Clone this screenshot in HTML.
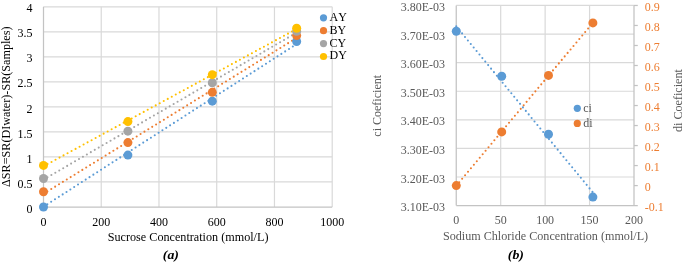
<!DOCTYPE html>
<html><head><meta charset="utf-8"><title>Figure</title>
<style>
html,body{margin:0;padding:0;background:#fff;}
svg{display:block;will-change:transform}
text{font-family:"Liberation Serif",serif;font-size:12.6px;font-kerning:none;}
.g{stroke:#D9D9D9;stroke-width:1.2;fill:none}
.ax{stroke:#C3C3C3;stroke-width:1.25;fill:none}
.t{fill:none;stroke-width:2.1;stroke-linecap:round;stroke-dasharray:0 4.56}
.k{fill:#000}
.gy{fill:#595959}
.or{fill:#ED7D31}
</style></head><body>
<svg width="685" height="264" viewBox="0 0 685 264">
<rect width="685" height="264" fill="#fff"/>

<g id="chartA">
<line class="g" x1="101.24" y1="6.8" x2="101.24" y2="207.0"/>
<line class="g" x1="158.98" y1="6.8" x2="158.98" y2="207.0"/>
<line class="g" x1="216.72" y1="6.8" x2="216.72" y2="207.0"/>
<line class="g" x1="274.46" y1="6.8" x2="274.46" y2="207.0"/>
<line class="g" x1="332.20" y1="6.8" x2="332.20" y2="207.0"/>
<line class="g" x1="43.5" y1="6.80" x2="332.2" y2="6.80"/>
<line class="g" x1="43.5" y1="31.82" x2="332.2" y2="31.82"/>
<line class="g" x1="43.5" y1="56.85" x2="332.2" y2="56.85"/>
<line class="g" x1="43.5" y1="81.87" x2="332.2" y2="81.87"/>
<line class="g" x1="43.5" y1="106.90" x2="332.2" y2="106.90"/>
<line class="g" x1="43.5" y1="131.93" x2="332.2" y2="131.93"/>
<line class="g" x1="43.5" y1="156.95" x2="332.2" y2="156.95"/>
<line class="g" x1="43.5" y1="181.97" x2="332.2" y2="181.97"/>
<line class="ax" x1="43.5" y1="6.8" x2="43.5" y2="207.0"/>
<line class="ax" x1="43.5" y1="207.0" x2="332.2" y2="207.0"/>
<line class="t" stroke="#5B9BD5" x1="43.5" y1="206.72" x2="296.65" y2="44.04"/>
<line class="t" stroke="#ED7D31" x1="43.5" y1="193.82" x2="296.65" y2="37.91"/>
<line class="t" stroke="#A5A5A5" x1="43.5" y1="179.64" x2="296.65" y2="32.63"/>
<line class="t" stroke="#FFC000" x1="43.5" y1="166.29" x2="296.65" y2="28.94"/>
<circle cx="43.5" cy="206.97" r="4.5" fill="#5B9BD5"/>
<circle cx="127.9" cy="155.1" r="4.5" fill="#5B9BD5"/>
<circle cx="212.3" cy="101.15" r="4.5" fill="#5B9BD5"/>
<circle cx="296.65" cy="41.45" r="4.5" fill="#5B9BD5"/>
<circle cx="43.5" cy="191.7" r="4.5" fill="#ED7D31"/>
<circle cx="127.9" cy="142.6" r="4.5" fill="#ED7D31"/>
<circle cx="212.3" cy="92.35" r="4.5" fill="#ED7D31"/>
<circle cx="296.65" cy="35.6" r="4.5" fill="#ED7D31"/>
<circle cx="43.5" cy="178.5" r="4.5" fill="#A5A5A5"/>
<circle cx="127.9" cy="131.15" r="4.5" fill="#A5A5A5"/>
<circle cx="212.3" cy="82.7" r="4.5" fill="#A5A5A5"/>
<circle cx="296.65" cy="31.35" r="4.5" fill="#A5A5A5"/>
<circle cx="43.5" cy="165.4" r="4.5" fill="#FFC000"/>
<circle cx="127.9" cy="121.6" r="4.5" fill="#FFC000"/>
<circle cx="212.3" cy="74.65" r="4.5" fill="#FFC000"/>
<circle cx="296.65" cy="28.3" r="4.5" fill="#FFC000"/>
<circle cx="323.5" cy="17.80" r="3.6" fill="#5B9BD5"/>
<text class="k" transform="translate(329.60,20.70) scale(1.0345,1)" style="font-size:11.6px">AY</text>
<circle cx="323.5" cy="30.70" r="3.6" fill="#ED7D31"/>
<text class="k" transform="translate(329.60,33.60) scale(1.0345,1)" style="font-size:11.6px">BY</text>
<circle cx="323.5" cy="43.60" r="3.6" fill="#A5A5A5"/>
<text class="k" transform="translate(329.60,46.50) scale(1.0345,1)" style="font-size:11.6px">CY</text>
<circle cx="323.5" cy="56.50" r="3.6" fill="#FFC000"/>
<text class="k" transform="translate(329.60,59.40) scale(1.0345,1)" style="font-size:11.6px">DY</text>
<text class="k" transform="translate(32.40,12.40) scale(0.9524,1)" text-anchor="end">4</text>
<text class="k" transform="translate(32.40,37.42) scale(0.9524,1)" text-anchor="end">3.5</text>
<text class="k" transform="translate(32.40,62.45) scale(0.9524,1)" text-anchor="end">3</text>
<text class="k" transform="translate(32.40,87.47) scale(0.9524,1)" text-anchor="end">2.5</text>
<text class="k" transform="translate(32.40,112.50) scale(0.9524,1)" text-anchor="end">2</text>
<text class="k" transform="translate(32.40,137.53) scale(0.9524,1)" text-anchor="end">1.5</text>
<text class="k" transform="translate(32.40,162.55) scale(0.9524,1)" text-anchor="end">1</text>
<text class="k" transform="translate(32.40,187.57) scale(0.9524,1)" text-anchor="end">0.5</text>
<text class="k" transform="translate(32.40,212.60) scale(0.9524,1)" text-anchor="end">0</text>
<text class="k" transform="translate(43.50,225.60) scale(0.9524,1)" text-anchor="middle">0</text>
<text class="k" transform="translate(101.24,225.60) scale(0.9524,1)" text-anchor="middle">200</text>
<text class="k" transform="translate(158.98,225.60) scale(0.9524,1)" text-anchor="middle">400</text>
<text class="k" transform="translate(216.72,225.60) scale(0.9524,1)" text-anchor="middle">600</text>
<text class="k" transform="translate(274.46,225.60) scale(0.9524,1)" text-anchor="middle">800</text>
<text class="k" transform="translate(332.20,225.60) scale(0.9524,1)" text-anchor="middle">1000</text>
<text class="k" transform="translate(188.10,240.60) scale(0.9659,1)" text-anchor="middle">Sucrose Concentration (mmol/L)</text>
<text class="k" transform="translate(170.90,259.20) scale(1.0500,1)" text-anchor="middle" font-weight="bold" font-style="italic" style="font-size:13.2px">(a)</text>
<text class="k" transform="translate(10.30,106.70) rotate(-90) scale(0.9651,1)" text-anchor="middle">ΔSR=SR(DIwater)-SR(Samples)</text>
</g>
<g id="chartB">
<line class="g" x1="500.69" y1="5.46" x2="500.69" y2="205.6"/>
<line class="g" x1="545.12" y1="5.46" x2="545.12" y2="205.6"/>
<line class="g" x1="589.56" y1="5.46" x2="589.56" y2="205.6"/>
<line class="g" x1="456.25" y1="5.46" x2="634.0" y2="5.46"/>
<line class="g" x1="456.25" y1="34.05" x2="634.0" y2="34.05"/>
<line class="g" x1="456.25" y1="62.64" x2="634.0" y2="62.64"/>
<line class="g" x1="456.25" y1="91.23" x2="634.0" y2="91.23"/>
<line class="g" x1="456.25" y1="119.83" x2="634.0" y2="119.83"/>
<line class="g" x1="456.25" y1="148.42" x2="634.0" y2="148.42"/>
<line class="g" x1="456.25" y1="177.01" x2="634.0" y2="177.01"/>
<line class="ax" x1="456.25" y1="5.46" x2="456.25" y2="205.6"/>
<line class="ax" x1="456.25" y1="205.6" x2="637.8" y2="205.6"/>
<line class="ax" x1="634.0" y1="5.46" x2="634.0" y2="205.6"/>
<line class="ax" x1="634.0" y1="5.46" x2="637.8" y2="5.46"/>
<line class="ax" x1="634.0" y1="25.47" x2="637.8" y2="25.47"/>
<line class="ax" x1="634.0" y1="45.49" x2="637.8" y2="45.49"/>
<line class="ax" x1="634.0" y1="65.50" x2="637.8" y2="65.50"/>
<line class="ax" x1="634.0" y1="85.52" x2="637.8" y2="85.52"/>
<line class="ax" x1="634.0" y1="105.53" x2="637.8" y2="105.53"/>
<line class="ax" x1="634.0" y1="125.54" x2="637.8" y2="125.54"/>
<line class="ax" x1="634.0" y1="145.56" x2="637.8" y2="145.56"/>
<line class="ax" x1="634.0" y1="165.57" x2="637.8" y2="165.57"/>
<line class="ax" x1="634.0" y1="185.59" x2="637.8" y2="185.59"/>
<line class="t" stroke="#5B9BD5" x1="456.3" y1="26.38" x2="592.9" y2="192.46"/>
<line class="t" stroke="#ED7D31" x1="456.3" y1="185.71" x2="592.9" y2="22.78"/>
<circle cx="456.3" cy="31.3" r="4.5" fill="#5B9BD5"/>
<circle cx="501.7" cy="76.3" r="4.5" fill="#5B9BD5"/>
<circle cx="548.5" cy="134.2" r="4.5" fill="#5B9BD5"/>
<circle cx="592.9" cy="197.1" r="4.5" fill="#5B9BD5"/>
<circle cx="456.3" cy="185.6" r="4.5" fill="#ED7D31"/>
<circle cx="501.7" cy="131.9" r="4.5" fill="#ED7D31"/>
<circle cx="548.5" cy="75.4" r="4.5" fill="#ED7D31"/>
<circle cx="592.9" cy="22.9" r="4.5" fill="#ED7D31"/>
<circle cx="577.3" cy="108.3" r="3.6" fill="#5B9BD5"/>
<text class="gy" transform="translate(583.30,111.60) scale(0.9524,1)">ci</text>
<circle cx="577.3" cy="123.4" r="3.6" fill="#ED7D31"/>
<text class="gy" transform="translate(583.30,126.80) scale(0.9524,1)">di</text>
<text class="gy" transform="translate(445.10,11.06) scale(0.9524,1)" text-anchor="end">3.80E-03</text>
<text class="gy" transform="translate(445.10,39.65) scale(0.9524,1)" text-anchor="end">3.70E-03</text>
<text class="gy" transform="translate(445.10,68.24) scale(0.9524,1)" text-anchor="end">3.60E-03</text>
<text class="gy" transform="translate(445.10,96.83) scale(0.9524,1)" text-anchor="end">3.50E-03</text>
<text class="gy" transform="translate(445.10,125.43) scale(0.9524,1)" text-anchor="end">3.40E-03</text>
<text class="gy" transform="translate(445.10,154.02) scale(0.9524,1)" text-anchor="end">3.30E-03</text>
<text class="gy" transform="translate(445.10,182.61) scale(0.9524,1)" text-anchor="end">3.20E-03</text>
<text class="gy" transform="translate(445.10,211.20) scale(0.9524,1)" text-anchor="end">3.10E-03</text>
<text class="or" transform="translate(644.80,11.06) scale(0.9524,1)">0.9</text>
<text class="or" transform="translate(644.80,31.07) scale(0.9524,1)">0.8</text>
<text class="or" transform="translate(644.80,51.09) scale(0.9524,1)">0.7</text>
<text class="or" transform="translate(644.80,71.10) scale(0.9524,1)">0.6</text>
<text class="or" transform="translate(644.80,91.12) scale(0.9524,1)">0.5</text>
<text class="or" transform="translate(644.80,111.13) scale(0.9524,1)">0.4</text>
<text class="or" transform="translate(644.80,131.14) scale(0.9524,1)">0.3</text>
<text class="or" transform="translate(644.80,151.16) scale(0.9524,1)">0.2</text>
<text class="or" transform="translate(644.80,171.17) scale(0.9524,1)">0.1</text>
<text class="or" transform="translate(644.80,191.19) scale(0.9524,1)">0</text>
<text class="or" transform="translate(644.80,211.20) scale(0.9524,1)">-0.1</text>
<text class="gy" transform="translate(456.25,223.90) scale(0.9524,1)" text-anchor="middle">0</text>
<text class="gy" transform="translate(500.69,223.90) scale(0.9524,1)" text-anchor="middle">50</text>
<text class="gy" transform="translate(545.12,223.90) scale(0.9524,1)" text-anchor="middle">100</text>
<text class="gy" transform="translate(589.56,223.90) scale(0.9524,1)" text-anchor="middle">150</text>
<text class="gy" transform="translate(634.00,223.90) scale(0.9524,1)" text-anchor="middle">200</text>
<text class="gy" transform="translate(545.50,239.70) scale(0.9642,1)" text-anchor="middle">Sodium Chloride Concentration (mmol/L)</text>
<text class="k" transform="translate(515.90,259.20) scale(1.0500,1)" text-anchor="middle" font-weight="bold" font-style="italic" style="font-size:13.2px">(b)</text>
<text class="gy" transform="translate(380.80,105.80) rotate(-90) scale(0.9549,1)" text-anchor="middle">ci Coeficient</text>
<text class="gy" transform="translate(681.90,100.60) rotate(-90) scale(0.9600,1)" text-anchor="middle">di Coeficient</text>
</g>
</svg></body></html>
